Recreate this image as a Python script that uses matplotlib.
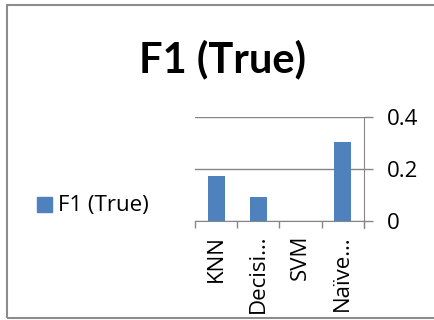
import matplotlib
matplotlib.use('Agg')
import matplotlib.pyplot as plt
from matplotlib.patches import Rectangle

plt.rcParams['font.family'] = ['Open Sans', 'DejaVu Sans']

# valeurs F1 par classifieur
categories = ['KNN', 'Decisi…', 'SVM', 'Naïve…']
f1_true = [0.173, 0.091, 0.0, 0.304]
serie = 'F1 (True)'
bleu = '#4f81bd'
gris = '#868686'
taille = 16

fig = plt.figure(figsize=(4.35, 3.2), dpi=100)

# cadre du graphique
fig.patches.append(Rectangle((7/435, 2/320), 1.0, 313/320, transform=fig.transFigure,
                             fill=False, edgecolor='#8c8c8c', linewidth=1.5))

ax = fig.add_axes([195/435, 1-221/320, 169/435, 104/320])
x = range(len(categories))
ax.bar(x, f1_true, width=0.4, color=bleu, zorder=3)
ax.set_xlim(-0.5, len(categories)-0.5)
ax.set_ylim(0, 0.4)
ax.set_yticks([0, 0.2, 0.4])
ax.set_yticklabels(['0', '0.2', '0.4'], fontsize=taille)
ax.yaxis.tick_right()
ax.grid(axis='y', color=gris, linewidth=1, zorder=0)
ax.tick_params(axis='y', length=6.5, width=1, color=gris, pad=10)

# ticks de categories entre les barres
ax.set_xticks([i-0.5 for i in range(len(categories)+1)])
ax.set_xticklabels([])
ax.set_xticks(list(x), minor=True)
ax.set_xticklabels(categories, minor=True, rotation=90, fontsize=taille)
ax.tick_params(axis='x', which='major', length=5, width=1, color=gris)
ax.tick_params(axis='x', which='minor', length=0, pad=10)

for s in ['top', 'left']:
    ax.spines[s].set_visible(False)
ax.spines['bottom'].set_color(gris)
ax.spines['right'].set_color(gris)
ax.spines['right'].set_bounds(-0.027, 0.4)

fig.text(223/435, 1-59/320, 'F1 (True)', fontsize=30, fontweight='bold',
         family=['Lato', 'DejaVu Sans'], ha='center', va='center')

fig.patches.append(Rectangle((37/435, 1-212/320), 15/435, 15/320, transform=fig.transFigure,
                             color=bleu))
fig.text(58/435, 1-205/320, serie, fontsize=taille, va='center')

fig.savefig('out.png', dpi=100)
